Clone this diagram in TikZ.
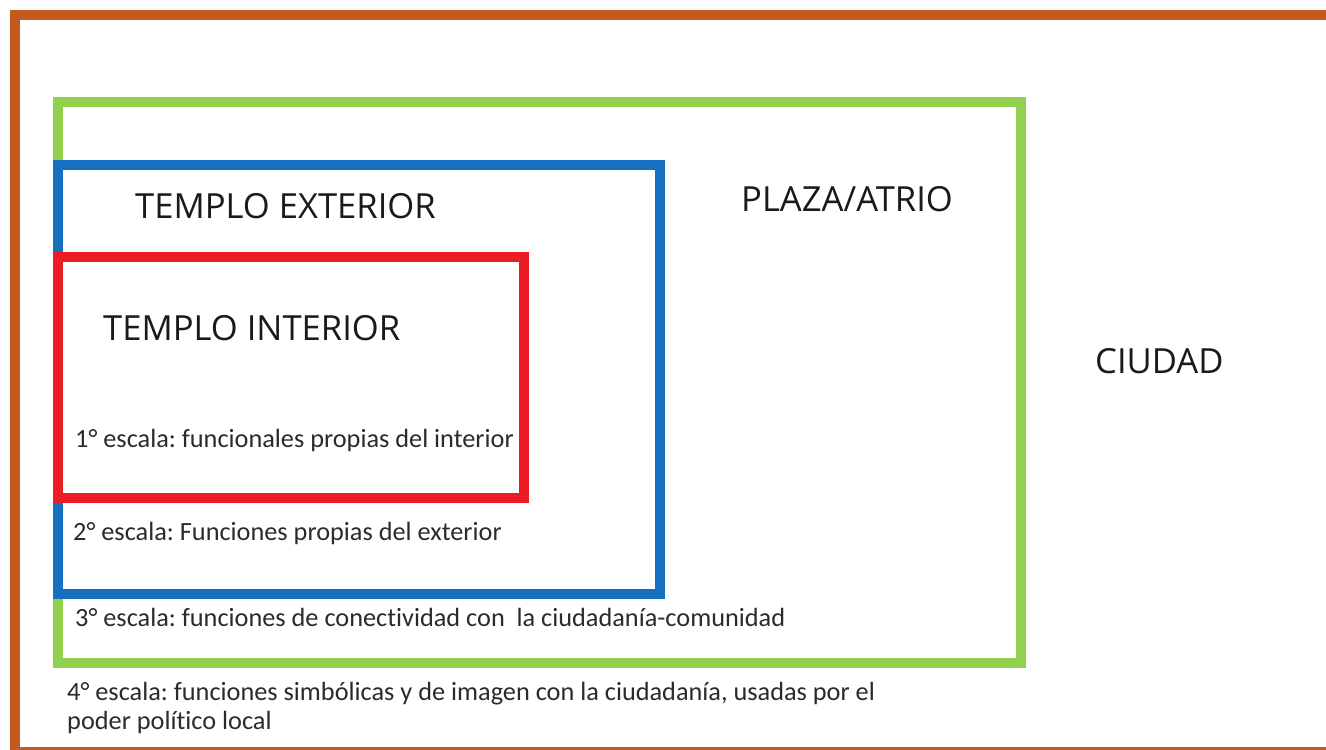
\documentclass[tikz,border=0pt]{standalone}
\usepackage{fontspec}
\setmainfont{Carlito}[Ligatures=NoCommon]
\newfontfamily\titlefont{Open Sans}
\frenchspacing
\definecolor{orangeC}{HTML}{C55A1E}
\definecolor{greenC}{HTML}{92D050}
\definecolor{blueC}{HTML}{1570BE}
\definecolor{redC}{HTML}{EC1C24}
\definecolor{txt}{HTML}{1A1A1A}
\definecolor{smalltxt}{HTML}{2B2B2B}
\tikzset{
  frame/.style={line width=10pt},
  title/.style={anchor=base west, inner sep=0pt, text=txt, font=\titlefont\fontsize{34.6}{40}\selectfont},
  note/.style={anchor=base west, inner sep=0pt, text=smalltxt, font=\fontsize{26.3}{29}\selectfont, align=left},
}
\begin{document}
\begin{tikzpicture}[x=1pt,y=-1pt]
\useasboundingbox (0,0) rectangle (1326,750);
\fill[white] (0,0) rectangle (1326,750);
% frames
\draw[frame, orangeC] (15,15) rectangle (1345,752);
\draw[frame, greenC] (58,102) rectangle (1021,663);
\draw[frame, blueC] (57.5,164.5) rectangle (660,594);
\draw[frame, redC] (58,257) rectangle (524,498);
% labels
\node[title] (ext) at (135,218) {TEMPLO EXTERIOR};
\node[title] (plaza) at (741,211) {PLAZA/ATRIO};
\node[title] (int) at (103,340) {TEMPLO INTERIOR};
\node[title] (ciudad) at (1095,373) {CIUDAD};
\node[note] (e1) at (75,447) {1° escala: funcionales propias del interior};
\node[note] (e2) at (73,540) {2° escala: Funciones propias del exterior};
\node[note] (e3) at (75,626) {3° escala: funciones de conectividad con\ \ la ciudadanía-comunidad};
\node[note] (e4) at (67,700) {4° escala: funciones simbólicas y de imagen con la ciudadanía, usadas por el};
\node[note] (e4b) at (67,729) {poder político local};
\end{tikzpicture}
\end{document}
